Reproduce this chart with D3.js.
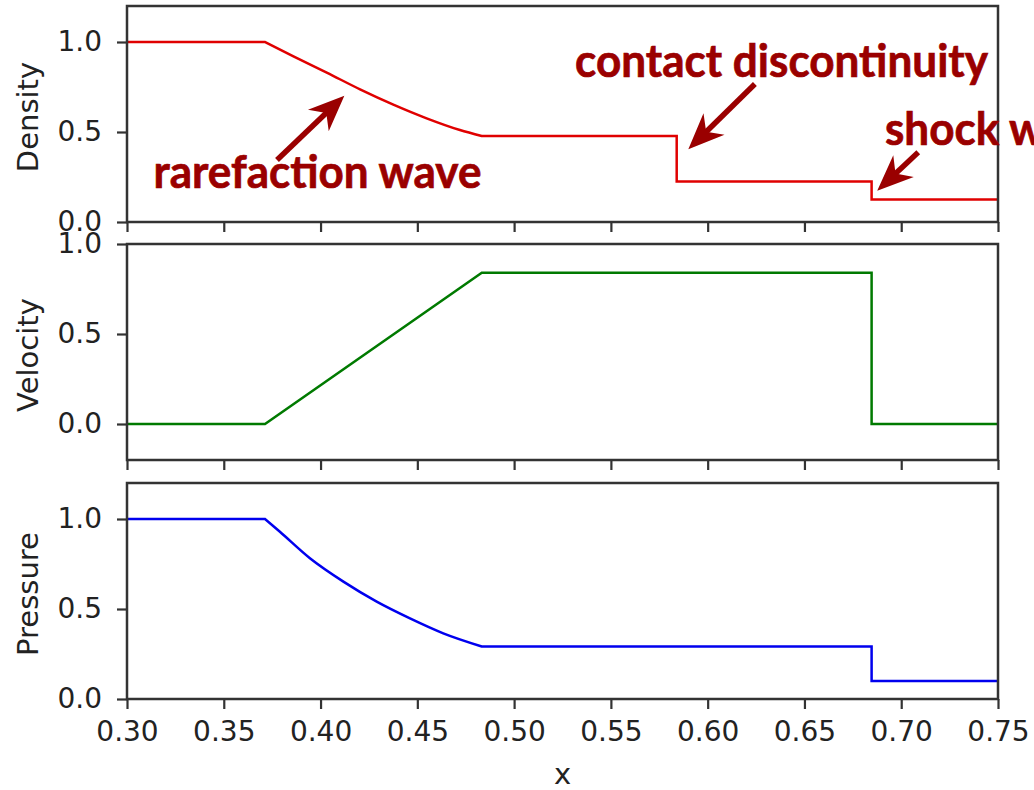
<!DOCTYPE html>
<html>
<head>
<meta charset="utf-8">
<script src="https://cdn.jsdelivr.net/npm/d3@7"></script>
<style>
  html, body { margin: 0; padding: 0; background: #fff; overflow: hidden; }
  svg { display: block; }
</style>
</head>
<body>
<svg id="chart" width="1034" height="790"></svg>
<script>
// ---------------- data ----------------
const xTicks = [0.30, 0.35, 0.40, 0.45, 0.50, 0.55, 0.60, 0.65, 0.70, 0.75];
const xTickLabels = ["0.30", "0.35", "0.40", "0.45", "0.50", "0.55", "0.60", "0.65", "0.70", "0.75"];
const yTicks = [0.0, 0.5, 1.0];
const yTickLabels = ["0.0", "0.5", "1.0"];

const panelNames = ["Density", "Velocity", "Pressure"];
const panelYMin = [0.0, -0.2, 0.0];
const panelYMax = [1.2, 1.0, 1.2];

// wave positions
const xHead = 0.3713;   // rarefaction head
const xTail = 0.4833;   // rarefaction tail

const densityX = [0.30, 0.3713, 0.386, 0.4032, 0.4204, 0.4376, 0.4548, 0.472, 0.4833, 0.584, 0.584, 0.6847, 0.6847, 0.75];
const densityY = [1.0, 1.0, 0.920, 0.830, 0.737, 0.652, 0.576, 0.511, 0.478, 0.478, 0.225, 0.225, 0.125, 0.125];

const velocityX = [0.30, 0.3713, 0.4833, 0.6847, 0.6847, 0.75];
const velocityY = [0.0, 0.0, 0.84, 0.84, 0.0, 0.0];

const pressureX = [0.30, 0.3713, 0.379, 0.3945, 0.4118, 0.429, 0.4462, 0.4634, 0.4833, 0.6847, 0.6847, 0.75];
const pressureY = [1.0, 1.0, 0.929, 0.782, 0.652, 0.541, 0.448, 0.365, 0.292, 0.292, 0.100, 0.100];

const annTexts = ["rarefaction wave", "contact discontinuity", "shock wave"];
const annTextX = [0.3137, 0.5315, 0.6916];
const annTextY = [0.189, 0.806, 0.428];
const arrowTailX = [0.3775, 0.6244, 0.7088];
const arrowTailY = [0.344, 0.767, 0.387];
const arrowTipX = [0.4123, 0.5900, 0.6876];
const arrowTipY = [0.702, 0.404, 0.174];

// ---------------- layout ----------------
const svg = d3.select("#chart");
const left = 127, right = 998;
const panelTop = [6, 244, 483];
const panelH = 216;
const axisColor = "#333";
const textColor = "#222";
const tickFont = "DejaVu Sans, sans-serif";
const annColor = "#9a0000";

const x = d3.scaleLinear().domain([0.30, 0.75]).range([left, right]);

const series = [
  { xs: densityX, ys: densityY, color: "#e00000" },
  { xs: velocityX, ys: velocityY, color: "#007a00" },
  { xs: pressureX, ys: pressureY, color: "#0000ee" }
];

const yScales = [];
panelNames.forEach((name, i) => {
  const top = panelTop[i], bottom = top + panelH;
  const y = d3.scaleLinear().domain([panelYMin[i], panelYMax[i]]).range([bottom, top]);
  yScales.push(y);
  const g = svg.append("g");

  svg.append("clipPath").attr("id", "clip" + i)
    .append("rect").attr("x", left).attr("y", top).attr("width", right - left).attr("height", panelH);

  // line: smooth inside the rarefaction fan, straight elsewhere
  const s = series[i];
  const pts = s.xs.map((xv, k) => [xv, s.ys[k]]);
  const fan = pts.filter(d => d[0] >= xHead && d[0] <= xTail);
  const before = pts.filter(d => d[0] <= xHead);
  const after = pts.filter(d => d[0] >= xTail);
  const lin = d3.line().x(d => x(d[0])).y(d => y(d[1]));
  const smooth = d3.line().curve(d3.curveMonotoneX).x(d => x(d[0])).y(d => y(d[1]));
  const dStr = lin(before) + "L" + smooth(fan).slice(1) + "L" + lin(after).slice(1);
  g.append("path")
    .attr("clip-path", `url(#clip${i})`)
    .attr("fill", "none")
    .attr("stroke", s.color)
    .attr("stroke-width", 2.5)
    .attr("stroke-linejoin", "miter")
    .attr("d", dStr);

  // axes
  const ax = d3.axisBottom(x).tickValues(xTicks).tickSize(10).tickSizeOuter(0).tickPadding(12)
    .tickFormat((d, k) => i === 2 ? xTickLabels[k] : "");
  const gx = g.append("g").attr("transform", `translate(0,${bottom})`).call(ax);
  const ay = d3.axisLeft(y).tickValues(yTicks).tickSize(10).tickSizeOuter(0).tickPadding(15)
    .tickFormat((d, k) => yTickLabels[k]);
  const gy = g.append("g").attr("transform", `translate(${left},0)`).call(ay);
  [gx, gy].forEach(a => {
    a.select(".domain").remove();
    a.selectAll(".tick line").attr("stroke", axisColor).attr("stroke-width", 2.2);
    a.selectAll(".tick text").attr("fill", textColor).style("font-family", tickFont).style("font-size", "28px");
  });
  gx.selectAll(".tick text").attr("dy", "0.71em");

  // frame
  g.append("rect")
    .attr("x", left).attr("y", top).attr("width", right - left).attr("height", panelH)
    .attr("fill", "none").attr("stroke", axisColor).attr("stroke-width", 2.5);

  // y label
  g.append("text")
    .attr("transform", `translate(38,${top + panelH / 2 + 3}) rotate(-90)`)
    .attr("text-anchor", "middle")
    .attr("fill", textColor)
    .style("font-family", tickFont).style("font-size", "29px")
    .text(name);
});

// x label
svg.append("text")
  .attr("x", (left + right) / 2).attr("y", 784)
  .attr("text-anchor", "middle")
  .attr("fill", textColor)
  .style("font-family", tickFont).style("font-size", "29px")
  .text("x");

// ---------------- annotations (in density panel) ----------------
const yd = yScales[0];
const ann = svg.append("g");

function drawArrow(x0, y0, x1, y1) {
  const dx = x1 - x0, dy = y1 - y0;
  const L = Math.hypot(dx, dy);
  const ux = dx / L, uy = dy / L;
  const px = -uy, py = ux;
  const headLen = 36, halfW = 15, notch = 11;
  const bx = x1 - ux * headLen, by = y1 - uy * headLen;
  const nx = x1 - ux * (headLen - notch), ny = y1 - uy * (headLen - notch);
  ann.append("line")
    .attr("x1", x0).attr("y1", y0).attr("x2", nx + ux * 2).attr("y2", ny + uy * 2)
    .attr("stroke", annColor).attr("stroke-width", 5.5);
  ann.append("path")
    .attr("d", `M${x1},${y1} L${bx + px * halfW},${by + py * halfW} L${nx},${ny} L${bx - px * halfW},${by - py * halfW} Z`)
    .attr("fill", annColor);
}

arrowTailX.forEach((tx, i) => {
  drawArrow(x(tx), yd(arrowTailY[i]), x(arrowTipX[i]), yd(arrowTipY[i]));
});

const targetW = [328, 413, null];
const texts = annTexts.map((t, i) => ann.append("text")
  .attr("x", x(annTextX[i])).attr("y", yd(annTextY[i]))
  .attr("fill", annColor)
  .attr("stroke", annColor)
  .attr("stroke-width", 0.7)
  .style("font-family", "Lato, 'Open Sans', sans-serif")
  .style("font-weight", "bold")
  .style("font-size", "46px")
  .text(t));
let ratios = [];
texts.forEach((t, i) => {
  const w = t.node().getComputedTextLength();
  if (targetW[i]) ratios.push(targetW[i] / w);
});
const avg = d3.mean(ratios);
texts.forEach((t, i) => {
  const x0 = +t.attr("x"), y0 = +t.attr("y");
  const r = targetW[i] ? targetW[i] / t.node().getComputedTextLength() : avg;
  t.attr("x", 0).attr("y", 0).attr("transform", `translate(${x0},${y0}) scale(${r},1)`);
});
</script>
</body>
</html>
